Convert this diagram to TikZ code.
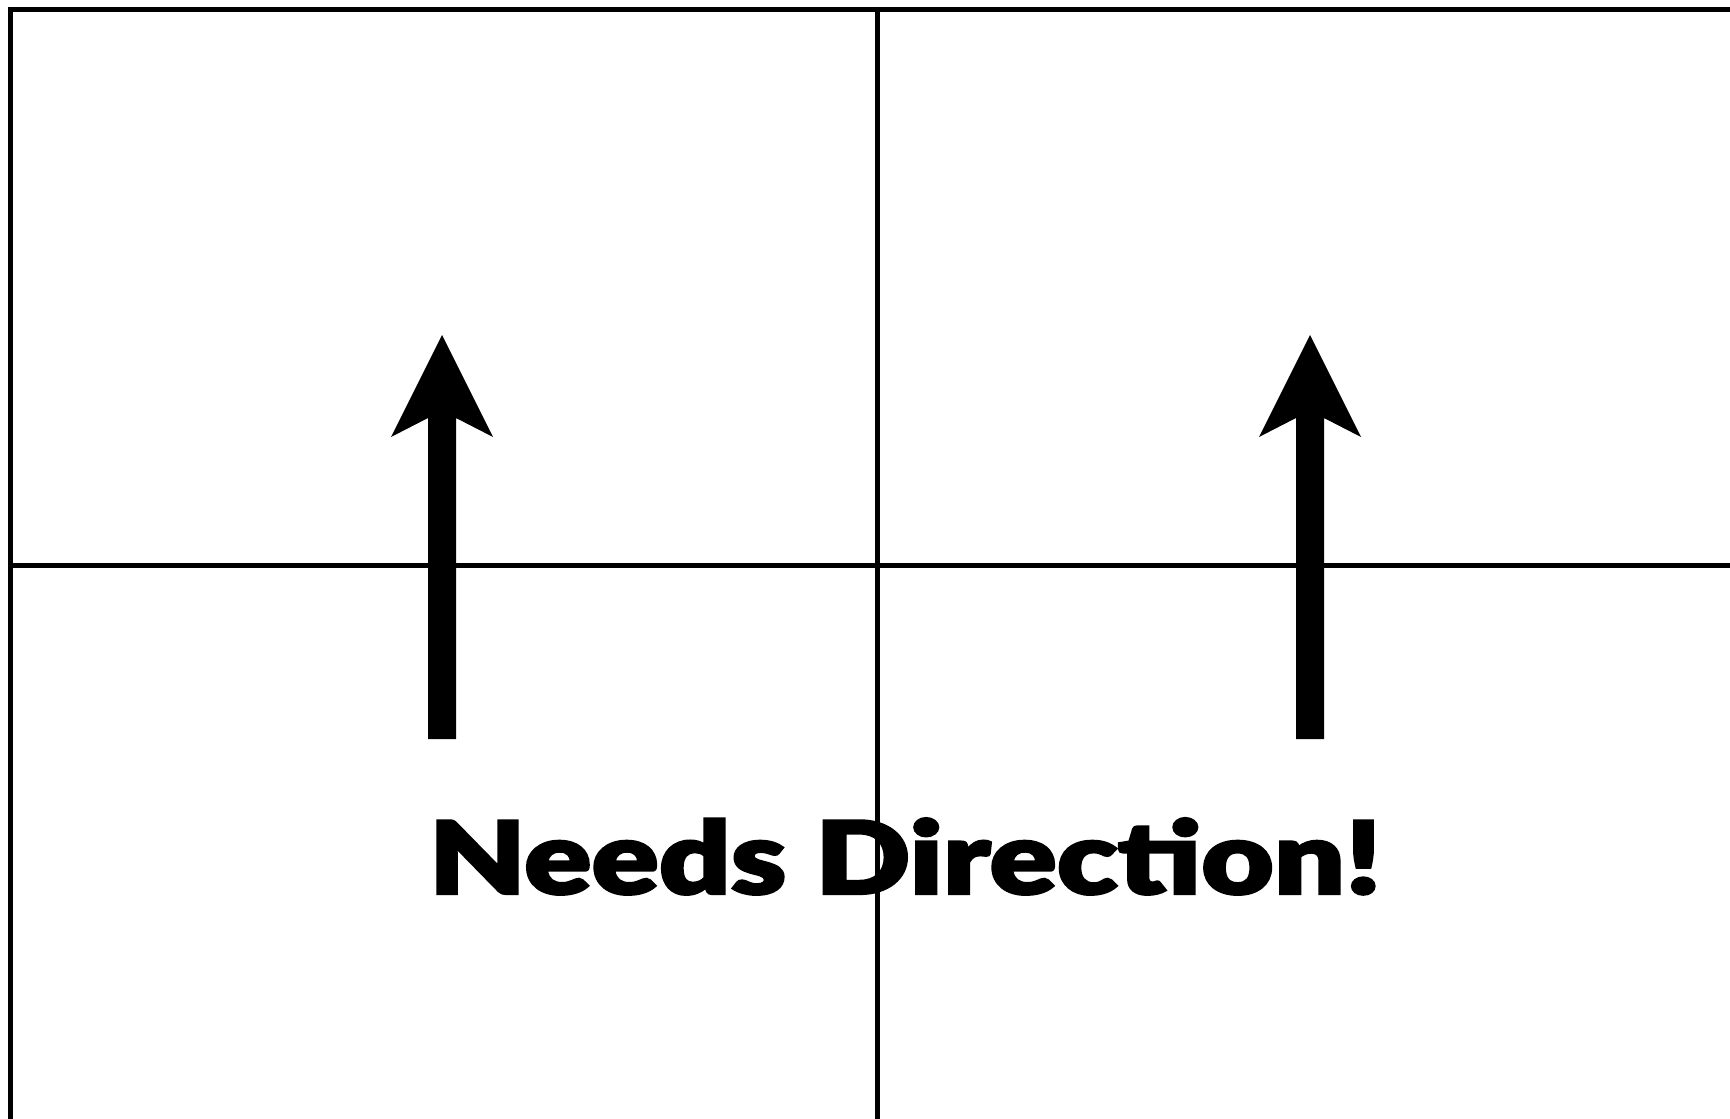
\documentclass[tikz,border=0pt]{standalone}
\usepackage{fontspec}
\newfontfamily\gillfont{Lato}[UprightFont=* Black, FakeBold=2.2]
\tikzset{
  gridline/.style={line width=3.75pt, black},
  bigarrow/.style={fill=black, draw=none},
  label/.style={inner sep=0pt, outer sep=0pt, anchor=base west}
}
\begin{document}
\begin{tikzpicture}[x=0.75pt,y=-0.75pt]
\useasboundingbox (0,0) rectangle (1730,1118);
% grid
\coordinate (tl) at (8,9);
\coordinate (tr) at (1735,9);
\coordinate (lt) at (10.5,6.5);
\coordinate (lb) at (10.5,1125);
\coordinate (mt) at (877,9);
\coordinate (mb) at (877,1125);
\coordinate (ml) at (10.5,565);
\coordinate (mr) at (1735,565);
\draw[gridline] (tl) -- (tr);
\draw[gridline] (lt) -- (lb);
\draw[gridline] (mt) -- (mb);
\draw[gridline] (ml) -- (mr);
% arrows
\foreach \cx in {442,1310}{
  \fill[bigarrow] (\cx,335) -- (\cx+51,437) -- (\cx+14,418) -- (\cx+14,739)
    -- (\cx-14,739) -- (\cx-14,418) -- (\cx-51,437) -- cycle;
}
% text
\node[label] (txt) at (429,894) {\resizebox{714pt}{57pt}{\gillfont Needs Direction!}};
\end{tikzpicture}
\end{document}
